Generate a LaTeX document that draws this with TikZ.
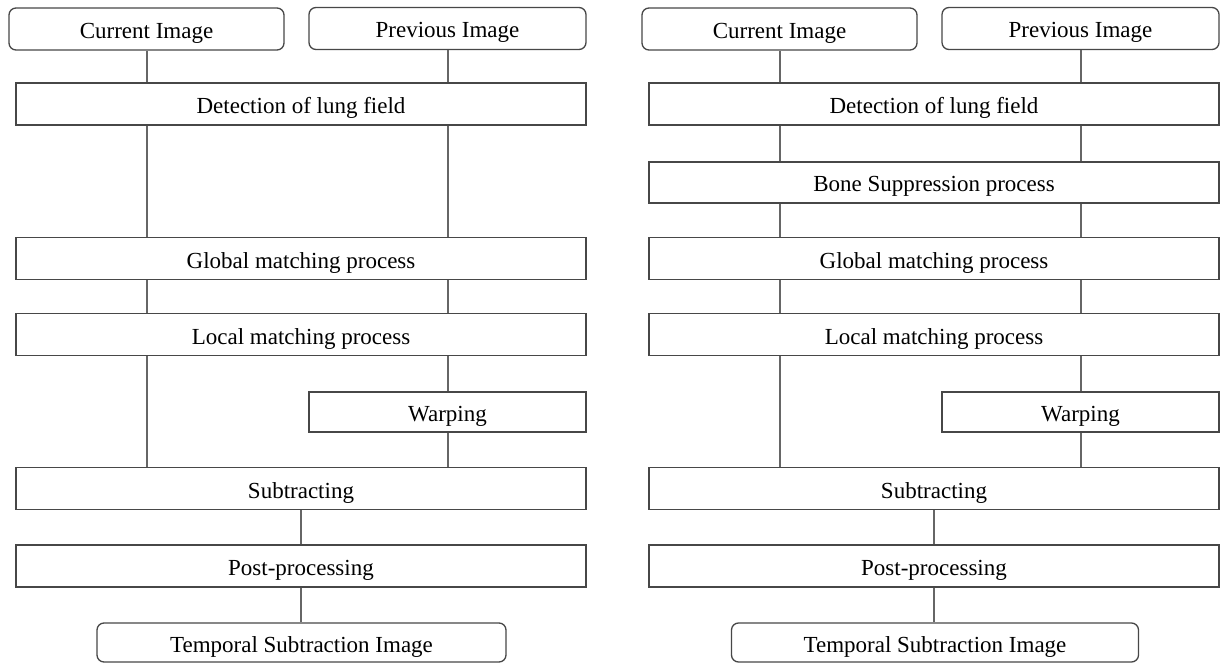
\documentclass[tikz,border=0pt]{standalone}
\usepackage{fontspec}
\setmainfont{Liberation Serif}
\begin{document}
\begin{tikzpicture}[x=1pt,y=-1pt,
  box/.style={draw=black!72, line width=1.3pt, fill=white, inner sep=0pt, minimum height=42pt,
    text height=19pt, text depth=0pt,
    font=\fontsize{23}{27}\selectfont, text=black},
  wide/.style={box, minimum width=570pt},
  half/.style={box, minimum width=277pt},
  rbox/.style={box, rounded corners=7pt},
  conn/.style={draw=black!60, line width=1.3pt}]
\useasboundingbox (0,0) rectangle (1223,663);
% ---------- left ----------
\coordinate (LA) at (147,0);
\coordinate (LB) at (448,0);
\coordinate (LC) at (301,0);
\node[rbox, minimum width=275pt] (cur1) at (146.5,29) {Current Image};
\node[rbox, minimum width=277pt] (prev1) at (447.5,28.5) {Previous Image};
\node[wide] (det1) at (301,104) {Detection of lung field};
\node[wide] (glob1) at (301,258.5) {Global matching process};
\node[wide] (loc1) at (301,334.5) {Local matching process};
\node[half, minimum height=40pt] (warp1) at (447.5,412) {Warping};
\node[wide] (sub1) at (301,488.5) {Subtracting};
\node[wide] (post1) at (301,566) {Post-processing};
\node[rbox, minimum width=409pt, minimum height=39pt] (temp1) at (301.5,642.5) {Temporal Subtraction Image};
\draw[conn] (cur1.south -| LA) -- (det1.north -| LA);
\draw[conn] (prev1.south -| LB) -- (det1.north -| LB);
\draw[conn] (det1.south -| LA) -- (glob1.north -| LA);
\draw[conn] (det1.south -| LB) -- (glob1.north -| LB);
\draw[conn] (glob1.south -| LA) -- (loc1.north -| LA);
\draw[conn] (glob1.south -| LB) -- (loc1.north -| LB);
\draw[conn] (loc1.south -| LA) -- (sub1.north -| LA);
\draw[conn] (loc1.south -| LB) -- (warp1.north -| LB);
\draw[conn] (warp1.south -| LB) -- (sub1.north -| LB);
\draw[conn] (sub1.south -| LC) -- (post1.north -| LC);
\draw[conn] (post1.south -| LC) -- (temp1.north -| LC);
% ---------- right ----------
\coordinate (RA) at (780,0);
\coordinate (RB) at (1081,0);
\coordinate (RC) at (934,0);
\node[rbox, minimum width=275pt] (cur2) at (779.5,29) {Current Image};
\node[rbox, minimum width=277pt] (prev2) at (1080.5,28.5) {Previous Image};
\node[wide] (det2) at (934,104) {Detection of lung field};
\node[wide, minimum height=41pt] (bone2) at (934,182.5) {Bone Suppression process};
\node[wide] (glob2) at (934,258.5) {Global matching process};
\node[wide] (loc2) at (934,334.5) {Local matching process};
\node[half, minimum height=40pt] (warp2) at (1080.5,412) {Warping};
\node[wide] (sub2) at (934,488.5) {Subtracting};
\node[wide] (post2) at (934,566) {Post-processing};
\node[rbox, minimum width=407pt, minimum height=39pt] (temp2) at (935,642.5) {Temporal Subtraction Image};
\draw[conn] (cur2.south -| RA) -- (det2.north -| RA);
\draw[conn] (prev2.south -| RB) -- (det2.north -| RB);
\draw[conn] (det2.south -| RA) -- (bone2.north -| RA);
\draw[conn] (det2.south -| RB) -- (bone2.north -| RB);
\draw[conn] (bone2.south -| RA) -- (glob2.north -| RA);
\draw[conn] (bone2.south -| RB) -- (glob2.north -| RB);
\draw[conn] (glob2.south -| RA) -- (loc2.north -| RA);
\draw[conn] (glob2.south -| RB) -- (loc2.north -| RB);
\draw[conn] (loc2.south -| RA) -- (sub2.north -| RA);
\draw[conn] (loc2.south -| RB) -- (warp2.north -| RB);
\draw[conn] (warp2.south -| RB) -- (sub2.north -| RB);
\draw[conn] (sub2.south -| RC) -- (post2.north -| RC);
\draw[conn] (post2.south -| RC) -- (temp2.north -| RC);
\end{tikzpicture}
\end{document}
